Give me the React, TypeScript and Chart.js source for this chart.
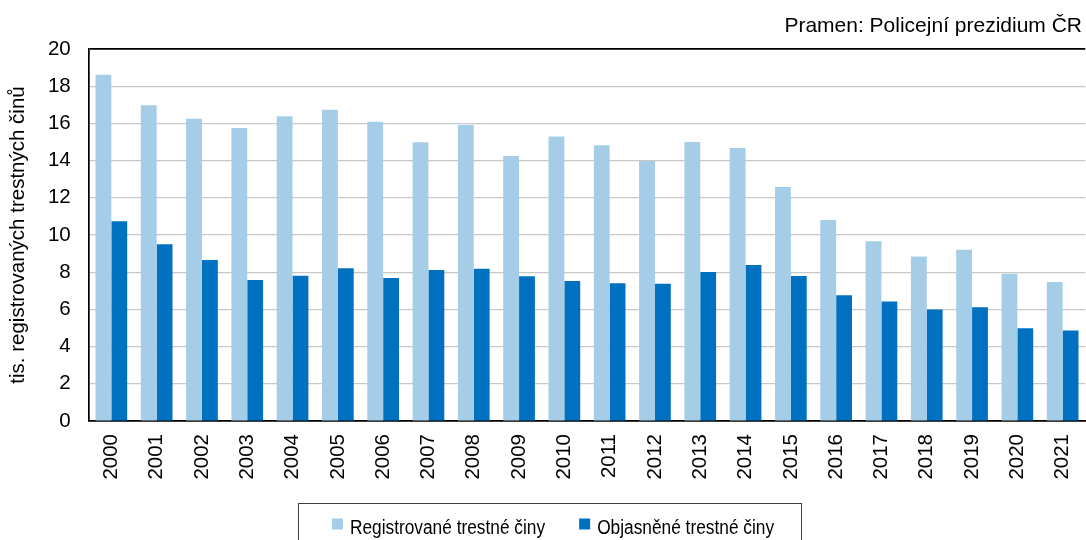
import React, { useEffect, useRef } from 'react';
import { Chart, registerables } from 'chart.js';

Chart.register(...registerables);

const years = ['2000', '2001', '2002', '2003', '2004', '2005', '2006', '2007', '2008', '2009', '2010', '2011', '2012', '2013', '2014', '2015', '2016', '2017', '2018', '2019', '2020', '2021'];
const registered = [18.62, 16.97, 16.25, 15.75, 16.38, 16.74, 16.09, 14.98, 15.91, 14.25, 15.3, 14.82, 13.98, 15.0, 14.68, 12.58, 10.8, 9.66, 8.84, 9.21, 7.92, 7.47];
const cleared = [10.74, 9.5, 8.66, 7.58, 7.81, 8.21, 7.69, 8.12, 8.19, 7.78, 7.53, 7.4, 7.38, 8.01, 8.39, 7.8, 6.76, 6.43, 5.99, 6.11, 4.98, 4.87];
const seriesLabels = ['Registrované trestné činy', 'Objasněné trestné činy'];
const seriesColors = ['#a6cde8', '#0070c0'];
const yMin = 0;
const yMax = 20;
const yStep = 2;
const yTitle = 'tis. registrovaných trestných činů';
const sourceText = 'Pramen: Policejní prezidium ČR';

const FONT = '"Liberation Sans", Arial, sans-serif';

const extras = {
  id: 'extras',
  afterDraw(chart: any) {
    const ctx = chart.ctx as CanvasRenderingContext2D;
    ctx.save();
    // source note
    ctx.font = `21px ${FONT}`;
    ctx.fillStyle = '#000';
    ctx.textAlign = 'right';
    ctx.textBaseline = 'alphabetic';
    ctx.fillText(sourceText, 1082, 31.5);

    // legend box
    ctx.strokeStyle = '#404040';
    ctx.lineWidth = 1;
    ctx.strokeRect(298.5, 503.5, 503, 60);

    // legend items
    const sx = 0.865;
    ctx.font = `20px ${FONT}`;
    ctx.textAlign = 'left';
    const ds = chart.data.datasets;
    const widths = ds.map((d: any) => ctx.measureText(d.label).width * sx);
    const box = 11;
    const gap = 7;
    const itemGap = 34;
    let total = 0;
    widths.forEach((w: number, i: number) => {
      total += box + gap + w + (i < widths.length - 1 ? itemGap : 0);
    });
    let x = 553 - total / 2;
    ds.forEach((d: any, i: number) => {
      ctx.fillStyle = d.backgroundColor;
      ctx.fillRect(x, 518.5, box, box);
      x += box + gap;
      ctx.save();
      ctx.translate(x, 534);
      ctx.scale(sx, 1);
      ctx.fillStyle = '#000';
      ctx.fillText(d.label, 0, 0);
      ctx.restore();
      x += widths[i] + itemGap;
    });
    ctx.restore();
  },
};

export default function App() {
  const ref = useRef<HTMLCanvasElement | null>(null);

  useEffect(() => {
    document.body.style.margin = '0';
    const canvas = ref.current;
    if (!canvas) return;
    const chart = new Chart(canvas, {
      type: 'bar',
      data: {
        labels: years,
        datasets: [
          {
            label: seriesLabels[0],
            data: registered,
            backgroundColor: seriesColors[0],
            categoryPercentage: 0.7,
            barPercentage: 1,
          },
          {
            label: seriesLabels[1],
            data: cleared,
            backgroundColor: seriesColors[1],
            categoryPercentage: 0.7,
            barPercentage: 1,
          },
        ],
      },
      options: {
        responsive: false,
        animation: false,
        devicePixelRatio: 1,
        layout: { padding: { top: 49, right: 0.7, bottom: 0, left: 0 } },
        plugins: {
          legend: { display: false },
          tooltip: { enabled: false },
          title: { display: false },
        },
        scales: {
          x: {
            grid: { display: false, drawTicks: false },
            border: { display: true, color: '#000', width: 1.7 },
            ticks: {
              color: '#000',
              font: { family: FONT, size: 20.5 },
              minRotation: 90,
              maxRotation: 90,
              padding: 13,
              autoSkip: false,
            },
            afterFit(scale: any) {
              scale.height = 119;
              scale.paddingLeft = 0;
              scale.paddingRight = 0;
            },
          },
          y: {
            min: yMin,
            max: yMax,
            grid: {
              drawTicks: false,
              color: (c: any) => (c.tick && c.tick.value === yMax ? '#000' : '#c8c8c8'),
              lineWidth: (c: any) => (c.tick && c.tick.value === yMax ? 1.7 : 1.2),
            },
            border: { display: true, color: '#000', width: 1.7 },
            ticks: {
              stepSize: yStep,
              color: '#000',
              font: { family: FONT, size: 20.5 },
              padding: 18,
            },
            title: {
              display: true,
              text: yTitle,
              color: '#000',
              font: { family: FONT, size: 20.5 },
              padding: { top: 5.7, bottom: 0 },
            },
            afterFit(scale: any) {
              scale.width = 88.7;
            },
          },
        },
      },
      plugins: [extras],
    });
    return () => chart.destroy();
  }, []);

  return (
    <div style={{ position: 'fixed', left: 0, top: 0, width: 1086, height: 540, background: '#fff' }}>
      <canvas ref={ref} width={1086} height={540} style={{ width: 1086, height: 540, display: 'block' }} />
    </div>
  );
}
